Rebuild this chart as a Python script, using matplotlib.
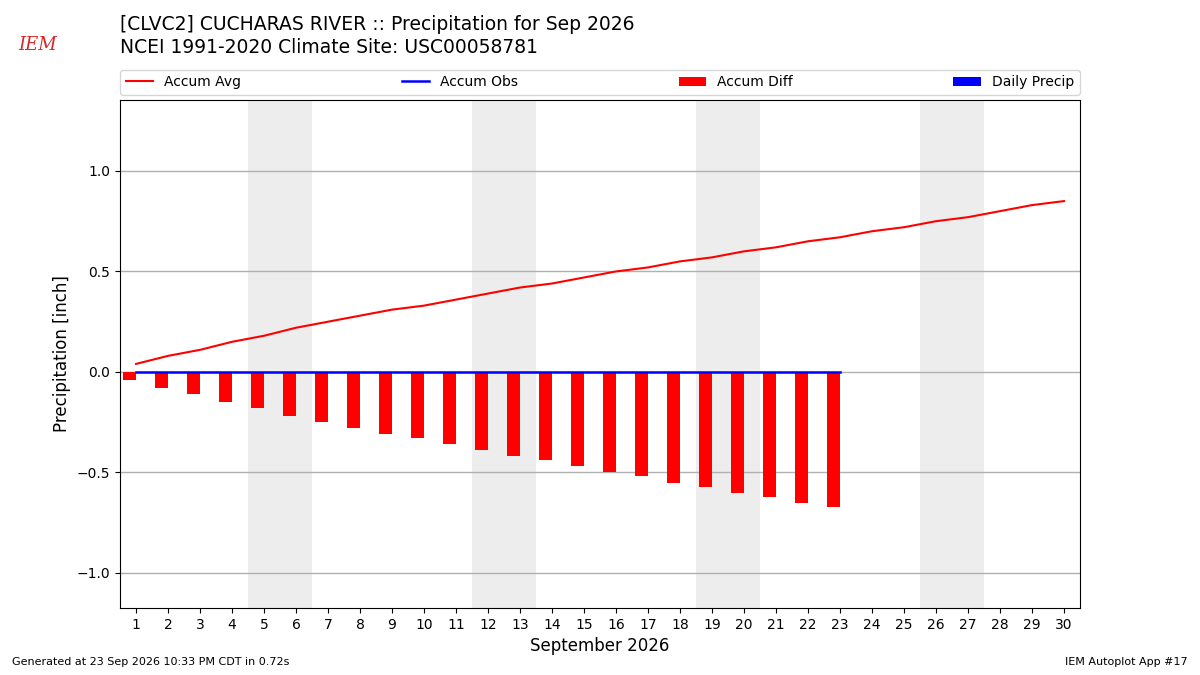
import matplotlib
matplotlib.use("Agg")
import matplotlib.pyplot as plt
import numpy as np

days = list(range(1, 31))
accum_avg = [0.04, 0.08, 0.11, 0.15, 0.18, 0.22, 0.25, 0.28, 0.31, 0.33,
             0.36, 0.39, 0.42, 0.44, 0.47, 0.50, 0.52, 0.55, 0.57, 0.60,
             0.62, 0.65, 0.67, 0.70, 0.72, 0.75, 0.77, 0.80, 0.83, 0.85]
obs_days = list(range(1, 24))
accum_obs = [0.0] * 23
daily_precip = [0.0] * 23
accum_diff = [o - a for o, a in zip(accum_obs, accum_avg[:23])]
weekends = [(5, 6), (12, 13), (19, 20), (26, 27)]

fig = plt.figure(figsize=(12, 6.75), dpi=100)
ax = fig.add_axes([0.1, 0.0993, 0.8, 0.7526])

for a, b in weekends:
    ax.axvspan(a - 0.5, b + 0.5, color="#ededed", zorder=0, lw=0)

ax.bar(obs_days, daily_precip, width=0.4, color="b", label="Daily Precip", zorder=2)
ax.bar(obs_days, accum_diff, width=-0.4, align="edge", color="r", label="Accum Diff", zorder=2)
ax.plot(days, accum_avg, color="r", lw=1.5, label="Accum Avg", zorder=3)
ax.plot(obs_days, accum_obs, color="b", lw=1.8, label="Accum Obs", zorder=3)

ax.set_xlim(0.5, 30.5)
ax.set_ylim(-1.174, 1.353)
ax.set_xticks(days)
ax.set_yticks([-1.0, -0.5, 0.0, 0.5, 1.0])
ax.grid(axis="y", color="#b0b0b0", lw=1)
ax.set_axisbelow(True)
ax.set_xlabel("September 2026", fontsize=12)
ax.set_ylabel("Precipitation [inch]", fontsize=12)

handles, labels = ax.get_legend_handles_labels()
order = ["Accum Avg", "Accum Obs", "Accum Diff", "Daily Precip"]
hmap = dict(zip(labels, handles))
ax.legend([hmap[k] for k in order], order, loc="lower left",
          bbox_to_anchor=(0, 1.01, 1, 0.05), ncol=4, mode="expand",
          borderaxespad=0, fontsize=10)

fig.text(0.1, 0.963, "[CLVC2] CUCHARAS RIVER :: Precipitation for Sep 2026",
         fontsize=13.5, va="center", ha="left")
fig.text(0.1, 0.929, "NCEI 1991-2020 Climate Site: USC00058781",
         fontsize=13.5, va="center", ha="left")
fig.text(0.031, 0.933, "IEM", fontsize=13, color="#d62728", family="DejaVu Serif",
         style="italic", ha="center", va="center")
fig.text(0.01, 0.015, "Generated at 23 Sep 2026 10:33 PM CDT in 0.72s", fontsize=8)
fig.text(0.99, 0.015, "IEM Autoplot App #17", fontsize=8, ha="right")

fig.savefig("out.png", dpi=100)
